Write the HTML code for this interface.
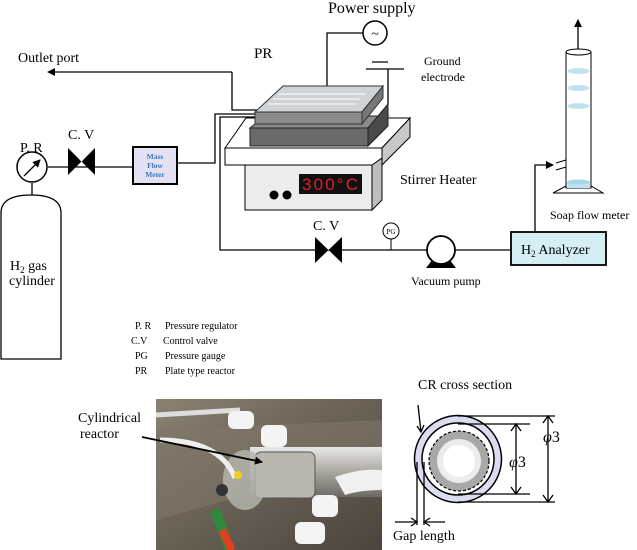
<!DOCTYPE html>
<html><head><meta charset="utf-8"><style>
html,body{margin:0;padding:0;background:#fff;}
svg{display:block;font-family:"Liberation Serif",serif;}
</style></head><body>
<svg width="637" height="550" viewBox="0 0 637 550" xmlns="http://www.w3.org/2000/svg">
<defs>
<marker id="ah" markerWidth="8" markerHeight="8" refX="7" refY="4" orient="auto" markerUnits="userSpaceOnUse"><path d="M0,0 L8,4 L0,8 z" fill="#000"/></marker>
<linearGradient id="ph" x1="0" y1="0" x2="1" y2="1"><stop offset="0" stop-color="#8a8272"/><stop offset="0.4" stop-color="#6e6659"/><stop offset="1" stop-color="#4a443c"/></linearGradient>
<linearGradient id="cyl" x1="0" y1="0" x2="0" y2="1"><stop offset="0" stop-color="#e8e8e6"/><stop offset="0.5" stop-color="#a9a6a0"/><stop offset="1" stop-color="#6d6a66"/></linearGradient>
</defs>
<g fill="none" stroke="#000" stroke-width="1.3">
<path d="M232,72 H48" marker-end="url(#ah)"/>
<path d="M232,72 V110 H258"/>
<path d="M177,163 H215 V114 H256"/>
<path d="M258,117 H220 V250 H511"/>
<path d="M48,167 H133"/>
<path d="M32,183 V195"/>
<path d="M1,359 V213 Q1,195 31,195 Q61,195 61,213 V359 Z"/>
<path d="M327,90 V33 H363"/>
<path d="M372,62 H388 M366,69 H404 M388,69 V105"/>
<path d="M535,232 V165 H553" marker-end="url(#ah)"/>
<path d="M578,50 V20" marker-end="url(#ah)"/>
</g>
<circle cx="32" cy="167" r="15" fill="#fff" stroke="#000" stroke-width="1.5"/>
<path d="M24,176 L40,160" stroke="#000" stroke-width="1.3" marker-end="url(#ah)"/>
<text x="20" y="152" font-size="14">P. R</text>
<text x="10" y="270" font-size="14">H<tspan font-size="9" dy="3">2</tspan><tspan dy="-3"> gas</tspan></text>
<text x="9" y="285" font-size="14">cylinder</text>
<path d="M68,148 L95,175 V148 L68,175 Z" fill="#000"/>
<path d="M75,154 H88 L81.5,162 Z" fill="#fff"/>
<text x="68" y="139" font-size="14">C. V</text>
<rect x="133" y="147" width="44" height="37" fill="#e4e2f2" stroke="#000" stroke-width="2"/>
<text x="155" y="159" font-size="7.5" font-weight="bold" fill="#3a78c0" text-anchor="middle">Mass</text>
<text x="155" y="168" font-size="7.5" font-weight="bold" fill="#3a78c0" text-anchor="middle">Flow</text>
<text x="155" y="177" font-size="7.5" font-weight="bold" fill="#3a78c0" text-anchor="middle">Meter</text>
<text x="18" y="62" font-size="14">Outlet port</text>
<path d="M225,148 L246,118 H410 L382,148 Z" fill="#fff" stroke="#000" stroke-width="1"/>
<path d="M382,148 L410,118 V137 L382,165 Z" fill="#c8c8c8" stroke="#000" stroke-width="1"/>
<rect x="225" y="148" width="157" height="17" fill="#fff" stroke="#000" stroke-width="1"/>
<path d="M372,165 L382,158 V200 L372,210 Z" fill="#bdbdbd" stroke="#000" stroke-width="1"/>
<rect x="245" y="165" width="127" height="45" fill="#ececec" stroke="#000" stroke-width="1"/>
<rect x="299" y="174" width="63" height="20" fill="#111"/>
<text x="330" y="190" font-family="Liberation Sans,sans-serif" font-size="17" fill="#e02020" text-anchor="middle" textLength="56">300°C</text>
<circle cx="274" cy="195" r="4.5" fill="#000"/><circle cx="287" cy="195" r="4.5" fill="#000"/>
<path d="M250,128 L265,116 H388 L368,128 Z" fill="#8a8a8a" stroke="#222" stroke-width="1"/>
<path d="M368,128 L388,104 V126 L368,146 Z" fill="#4a4a4a" stroke="#222"/>
<rect x="250" y="128" width="118" height="18" fill="#6a6a6a" stroke="#222"/>
<path d="M255,112 L283,86 H383 L362,112 Z" fill="#cfd3d6" stroke="#333" stroke-width="1"/>
<path d="M255,112 H362 V124 H255 Z" fill="#8c8c8c" stroke="#333" stroke-width="1"/>
<path d="M362,112 L383,86 V98 L362,124 Z" fill="#777" stroke="#333"/>
<path d="M268,104 H355 M273,99 H360 M278,94 H365" stroke="#fff" stroke-width="1"/>
<text x="254" y="58" font-size="15">PR</text>
<circle cx="375" cy="33" r="12" fill="#fff" stroke="#000" stroke-width="1.5"/>
<text x="375" y="38" font-size="14" text-anchor="middle">~</text>
<text x="328" y="13" font-size="16">Power supply</text>
<text x="424" y="65" font-size="12">Ground</text>
<text x="421" y="81" font-size="12">electrode</text>
<text x="400" y="184" font-size="14">Stirrer Heater</text>
<path d="M315,237 L342,263 V237 L315,263 Z" fill="#000"/>
<path d="M322,243 H335 L328.5,250 Z" fill="#fff"/>
<text x="313" y="230" font-size="14">C. V</text>
<line x1="391" y1="239" x2="391" y2="250" stroke="#000"/>
<circle cx="391" cy="231" r="8" fill="#fff" stroke="#000"/>
<text x="391" y="234" font-size="7" text-anchor="middle">PG</text>
<path d="M426,268 H456 L449,259 H433 Z" fill="#000"/>
<circle cx="441" cy="250" r="14" fill="#fff" stroke="#000" stroke-width="1.8"/>
<text x="411" y="285" font-size="12">Vacuum pump</text>
<rect x="511" y="232" width="95" height="33" fill="#d5eef3" stroke="#000" stroke-width="1.8"/>
<text x="521" y="254" font-size="14">H<tspan font-size="9" dy="3">2</tspan><tspan dy="-3"> Analyzer</tspan></text>
<path d="M553,193 L566,186 H591 L603,193 Z" fill="#fff" stroke="#000"/>
<rect x="566" y="52" width="25" height="136" fill="#fff" stroke="#000"/>
<ellipse cx="578.5" cy="52" rx="12.5" ry="3" fill="#fff" stroke="#000"/>
<ellipse cx="578.5" cy="71" rx="11" ry="3" fill="#bfe2ee"/>
<ellipse cx="578.5" cy="88" rx="11" ry="3" fill="#bfe2ee"/>
<ellipse cx="578.5" cy="106" rx="11" ry="3" fill="#bfe2ee"/>
<rect x="567" y="182" width="23" height="6" fill="#bfe2ee"/>
<ellipse cx="578.5" cy="182" rx="11.5" ry="2.5" fill="#a7d6e6"/>
<path d="M556,163 L566,160 M556,170 L566,167" stroke="#000"/>
<text x="550" y="219" font-size="12">Soap flow meter</text>
<g font-size="10">
<text x="135" y="329">P. R</text><text x="165" y="329">Pressure regulator</text>
<text x="131" y="344">C.V</text><text x="163" y="344">Control valve</text>
<text x="135" y="359">PG</text><text x="165" y="359">Pressure gauge</text>
<text x="135" y="374">PR</text><text x="165" y="374">Plate type reactor</text>
</g>
<rect x="156" y="399" width="226" height="151" fill="url(#ph)"/>
<path d="M156,430 L382,420 V470 L300,480 L156,520 Z" fill="#7e7769" opacity="0.6"/>
<rect x="250" y="447" width="132" height="50" fill="url(#cyl)"/>
<rect x="255" y="452" width="60" height="46" rx="6" fill="#b9b6b0" stroke="#555"/>
<ellipse cx="245" cy="480" rx="22" ry="30" fill="#b8b8b0" opacity="0.8"/>
<circle cx="222" cy="490" r="6" fill="#333"/>
<path d="M160,440 Q220,440 235,478" stroke="#eee" stroke-width="5" fill="none"/>
<path d="M156,415 L240,410" stroke="#ddd" stroke-width="5"/>
<rect x="228" y="411" width="26" height="18" rx="6" fill="#f4f4f4"/>
<rect x="261" y="425" width="26" height="22" rx="6" fill="#f4f4f4"/>
<rect x="312" y="495" width="26" height="22" rx="6" fill="#f4f4f4"/>
<rect x="295" y="522" width="30" height="22" rx="6" fill="#f4f4f4"/>
<path d="M335,477 Q360,468 382,470 V490 Q360,490 345,495 Z" fill="#f0f0f0"/>
<path d="M215,510 L230,550" stroke="#2e8a3a" stroke-width="10"/>
<path d="M222,530 L232,550" stroke="#e04020" stroke-width="8"/>
<circle cx="238" cy="475" r="4" fill="#e8d020"/>
<text x="78" y="422" font-size="14">Cylindrical</text>
<text x="80" y="438" font-size="14">reactor</text>
<path d="M142,437 L262,462" stroke="#000" stroke-width="1.8" marker-end="url(#ah)"/>
<text x="418" y="389" font-size="14">CR cross section</text>
<circle cx="458" cy="459" r="43.5" fill="#dcdcf0" stroke="#000" stroke-width="1.5"/>
<circle cx="458" cy="459" r="36" fill="#fff" stroke="#000" stroke-width="1.5"/>
<circle cx="459" cy="461" r="30" fill="#a8a8a8" stroke="#000" stroke-dasharray="3,2" stroke-width="1.2"/>
<circle cx="459" cy="461" r="22" fill="#ececec"/>
<circle cx="459" cy="461" r="16" fill="#fff"/>
<g stroke="#000" stroke-width="1.3" fill="none">
<path d="M458,416 H555 M458,502 H555 M458,424 H530 M458,494 H530"/>
<path d="M516,424 V494 M548,416 V502"/>
<path d="M511,431 L516,424 L521,431 M511,487 L516,494 L521,487"/>
<path d="M543,423 L548,416 L553,423 M543,495 L548,502 L553,495"/>
<path d="M418,405 L421,432 M417,426 L421,432 L424,425"/>
<path d="M417,462 V525 M424,462 V525"/>
<path d="M395,522 H417 M411,518 L417,522 L411,526 M445,522 H424 M430,518 L424,522 L430,526"/>
</g>
<text x="509" y="467" font-size="16" font-style="italic">φ<tspan font-style="normal">3</tspan></text>
<text x="543" y="442" font-size="16" font-style="italic">φ<tspan font-style="normal">3</tspan></text>
<text x="393" y="540" font-size="14">Gap length</text>
</svg>
</body></html>
